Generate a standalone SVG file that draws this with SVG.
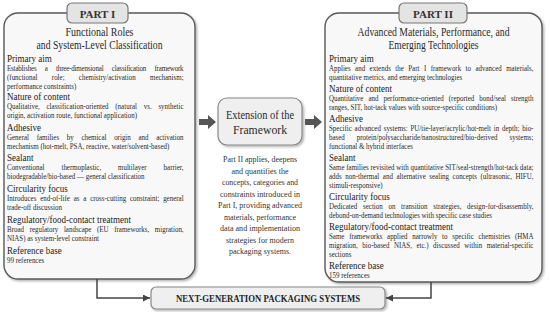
<svg xmlns="http://www.w3.org/2000/svg" width="550" height="312" viewBox="0 0 550 312">
<defs>
<filter id="sh" x="-10%" y="-10%" width="120%" height="120%">
<feDropShadow dx="1.5" dy="1.5" stdDeviation="1.2" flood-color="#000" flood-opacity="0.3"/>
</filter>
<marker id="ah" viewBox="0 0 10 10" refX="10" refY="5" markerWidth="7" markerHeight="7" markerUnits="userSpaceOnUse" orient="auto">
<path d="M0,0 L10,5 L0,10 Z" fill="#444"/>
</marker>
<style>
text{font-family:"Liberation Serif","Times New Roman",serif;fill:#1e1e1e}
.panel{fill:#f8f8f8;stroke:#5a5a5a;stroke-width:1.4}
.tab{fill:#e4e4e4;stroke:#777;stroke-width:1.2}
.tabt{font-size:11px;font-weight:bold;text-anchor:middle;fill:#333}
.title{font-size:11.5px;text-anchor:middle;fill:#2a2a2a}
.h{font-size:10px;fill:#1a1a1a}
.b{font-size:8px;fill:#2a2a2a}
.c{font-size:9px;text-anchor:middle;fill:#333}
.box{fill:#efefef;stroke:#888;stroke-width:1.2}
.conn{fill:none;stroke:#444;stroke-width:1.5}
.barrow{fill:#555}
</style>
</defs>
<rect width="550" height="312" fill="#fff"/>

<g id="part1">
<rect class="panel" x="4" y="13" width="191" height="266" rx="14" filter="url(#sh)"/>
<rect class="tab" x="67" y="3" width="61" height="20" rx="5"/>
<text class="tabt" x="97.5" y="17.5">PART I</text>
<text class="title" x="99.5" y="36" textLength="68" lengthAdjust="spacingAndGlyphs">Functional Roles</text>
<text class="title" x="99.5" y="49" textLength="126" lengthAdjust="spacingAndGlyphs">and System-Level Classification</text>
<g transform="translate(7,0) scale(0.9,1)">
<text class="h" x="0" y="62">Primary aim</text>
<text class="h" x="0" y="100">Nature of content</text>
<text class="h" x="0" y="131">Adhesive</text>
<text class="h" x="0" y="161">Sealant</text>
<text class="h" x="0" y="192">Circularity focus</text>
<text class="h" x="0" y="223">Regulatory/food-contact treatment</text>
<text class="h" x="0" y="254">Reference base</text>
</g>
<g transform="translate(7,0) scale(0.87,1)">
<text class="b" x="0" y="71" word-spacing="7.8" textLength="203" lengthAdjust="spacing">Establishes a three-dimensional classification framework</text>
<text class="b" x="0" y="80" word-spacing="14.4" textLength="203" lengthAdjust="spacing">(functional role; chemistry/activation mechanism;</text>
<text class="b" x="0" y="89">performance constraints)</text>
<text class="b" x="0" y="109" word-spacing="5.7" textLength="203" lengthAdjust="spacing">Qualitative, classification-oriented (natural vs. synthetic</text>
<text class="b" x="0" y="118">origin, activation route, functional application)</text>
<text class="b" x="0" y="140" word-spacing="6.8" textLength="203" lengthAdjust="spacing">General families by chemical origin and activation</text>
<text class="b" x="0" y="149">mechanism (hot-melt, PSA, reactive, water/solvent-based)</text>
<text class="b" x="0" y="170" word-spacing="17.4" textLength="203" lengthAdjust="spacing">Conventional thermoplastic, multilayer barrier,</text>
<text class="b" x="0" y="179">biodegradable/bio-based — general classification</text>
<text class="b" x="0" y="201" word-spacing="2.4" textLength="203" lengthAdjust="spacing">Introduces end-of-life as a cross-cutting constraint; general</text>
<text class="b" x="0" y="210">trade-off discussion</text>
<text class="b" x="0" y="232" word-spacing="4.5" textLength="203" lengthAdjust="spacing">Broad regulatory landscape (EU frameworks, migration,</text>
<text class="b" x="0" y="241">NIAS) as system-level constraint</text>
<text class="b" x="0" y="263">99 references</text>
</g>
</g>

<g id="extension">
<rect class="box" x="218" y="98" width="84" height="47" rx="9" filter="url(#sh)"/>
<text class="title" x="260" y="119" font-size="12.5" textLength="68" lengthAdjust="spacingAndGlyphs">Extension of the</text>
<text class="title" x="260" y="134" font-size="12.5" textLength="54" lengthAdjust="spacingAndGlyphs">Framework</text>
<text class="c" x="260" y="162" textLength="74" lengthAdjust="spacingAndGlyphs">Part II applies, deepens</text>
<text class="c" x="260" y="173.5" textLength="57" lengthAdjust="spacingAndGlyphs">and quantifies the</text>
<text class="c" x="260" y="185" textLength="76" lengthAdjust="spacingAndGlyphs">concepts, categories and</text>
<text class="c" x="260" y="196.5" textLength="80" lengthAdjust="spacingAndGlyphs">constraints introduced in</text>
<text class="c" x="260" y="208" textLength="84" lengthAdjust="spacingAndGlyphs">Part I, providing advanced</text>
<text class="c" x="260" y="219.5" textLength="72" lengthAdjust="spacingAndGlyphs">materials, performance</text>
<text class="c" x="260" y="231" textLength="80" lengthAdjust="spacingAndGlyphs">data and implementation</text>
<text class="c" x="260" y="242.5" textLength="68" lengthAdjust="spacingAndGlyphs">strategies for modern</text>
<text class="c" x="260" y="254" textLength="62" lengthAdjust="spacingAndGlyphs">packaging systems.</text>
</g>

<g id="part2">
<rect class="panel" x="325" y="13" width="217" height="269" rx="14" filter="url(#sh)"/>
<rect class="tab" x="399" y="3" width="68" height="20" rx="5"/>
<text class="tabt" x="433" y="17.5">PART II</text>
<text class="title" x="433.5" y="36" textLength="152" lengthAdjust="spacingAndGlyphs">Advanced Materials, Performance, and</text>
<text class="title" x="433.5" y="49" textLength="90" lengthAdjust="spacingAndGlyphs">Emerging Technologies</text>
<g transform="translate(329,0) scale(0.9,1)">
<text class="h" x="0" y="62">Primary aim</text>
<text class="h" x="0" y="92">Nature of content</text>
<text class="h" x="0" y="122">Adhesive</text>
<text class="h" x="0" y="161">Sealant</text>
<text class="h" x="0" y="200">Circularity focus</text>
<text class="h" x="0" y="230">Regulatory/food-contact treatment</text>
<text class="h" x="0" y="269">Reference base</text>
</g>
<g transform="translate(329,0) scale(0.87,1)">
<text class="b" x="0" y="71" word-spacing="3.1" textLength="235" lengthAdjust="spacing">Applies and extends the Part I framework to advanced materials,</text>
<text class="b" x="0" y="80">quantitative metrics, and emerging technologies</text>
<text class="b" x="0" y="101" word-spacing="3.8" textLength="235" lengthAdjust="spacing">Quantitative and performance-oriented (reported bond/seal strength</text>
<text class="b" x="0" y="110">ranges, SIT, hot-tack values with source-specific conditions)</text>
<text class="b" x="0" y="131" word-spacing="1.2" textLength="235" lengthAdjust="spacing">Specific advanced systems: PU/tie-layer/acrylic/hot-melt in depth; bio-</text>
<text class="b" x="0" y="140" word-spacing="11.7" textLength="235" lengthAdjust="spacing">based protein/polysaccharide/nanostructured/bio-derived systems;</text>
<text class="b" x="0" y="149">functional &amp; hybrid interfaces</text>
<text class="b" x="0" y="170" textLength="235" lengthAdjust="spacing">Same families revisited with quantitative SIT/seal-strength/hot-tack data;</text>
<text class="b" x="0" y="179" word-spacing="2.1" textLength="235" lengthAdjust="spacing">adds non-thermal and alternative sealing concepts (ultrasonic, HIFU,</text>
<text class="b" x="0" y="188">stimuli-responsive)</text>
<text class="b" x="0" y="209" word-spacing="4.5" textLength="235" lengthAdjust="spacing">Dedicated section on transition strategies, design-for-disassembly,</text>
<text class="b" x="0" y="218">debond-on-demand technologies with specific case studies</text>
<text class="b" x="0" y="239" word-spacing="3.4" textLength="235" lengthAdjust="spacing">Same frameworks applied narrowly to specific chemistries (HMA</text>
<text class="b" x="0" y="248" word-spacing="3.2" textLength="235" lengthAdjust="spacing">migration, bio-based NIAS, etc.) discussed within material-specific</text>
<text class="b" x="0" y="257">sections</text>
<text class="b" x="0" y="278">159 references</text>
</g>
</g>

<g id="nextgen">
<rect class="box" x="151" y="287" width="234" height="22" rx="5" fill="#ececec" stroke="#999" filter="url(#sh)"/>
<text x="268" y="302" font-size="10" font-weight="bold" text-anchor="middle" fill="#333" textLength="184" lengthAdjust="spacingAndGlyphs">NEXT-GENERATION PACKAGING SYSTEMS</text>
</g>

<g id="connectors">
<polygon class="barrow" points="199,119 208,119 208,115 216,122 208,129 208,125 199,125"/>
<polygon class="barrow" points="305,119 314,119 314,115 322,122 314,129 314,125 305,125"/>
<path class="conn" d="M97,279 V298 H150" marker-end="url(#ah)"/>
<path class="conn" d="M431,282 V298 H386" marker-end="url(#ah)"/>
</g>
</svg>
